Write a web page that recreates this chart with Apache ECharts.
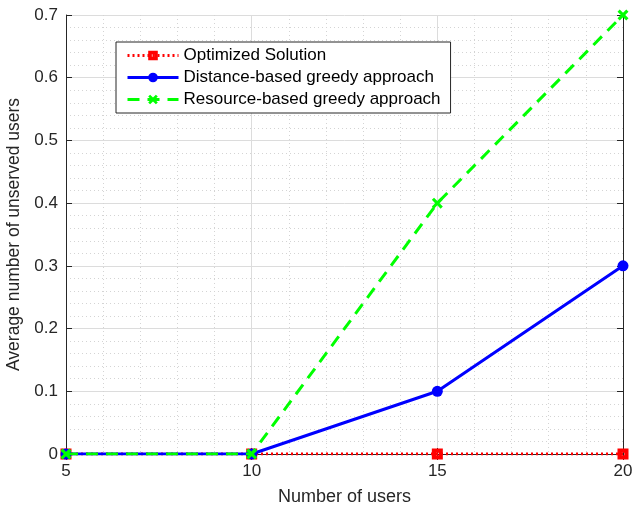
<!DOCTYPE html>
<html>
<head>
<meta charset="utf-8">
<script src="https://cdn.jsdelivr.net/npm/echarts@6/dist/echarts.min.js"></script>
<style>
html,body{margin:0;padding:0;background:#fff;}
#chart{width:634px;height:508px;}
</style>
</head>
<body>
<div id="chart"></div>
<script>
// Number of users on the x axis
const users = [5, 10, 15, 20];
// Average number of unserved users per scheme
const optimized = [0, 0, 0, 0];
const distanceGreedy = [0, 0, 0.1, 0.3];
const resourceGreedy = [0, 0, 0.4, 0.7];
const seriesNames = ['Optimized Solution', 'Distance-based greedy approach', 'Resource-based greedy approach'];

const FONT = '"Liberation Sans", Arial, Helvetica, sans-serif';
const AXIS_COLOR = '#262626';
const crossPath = 'path://M2,0 L5,3 L8,0 L10,2 L7,5 L10,8 L8,10 L5,7 L2,10 L0,8 L3,5 L0,2 Z';
// thick square outline with a small hole in the middle
const squarePath = 'path://M0,0 L10,0 L10,10 L0,10 Z M3.8,3.8 L3.8,6.2 L6.2,6.2 L6.2,3.8 Z';

const pairs = arr => users.map((u, i) => [u, arr[i]]);

const boxAxis = (pos, isX) => ({
  type: 'value',
  position: pos,
  min: isX ? 5 : 0,
  max: isX ? 20 : 0.7,
  interval: isX ? 5 : 0.1,
  axisLine: { show: true, lineStyle: { color: AXIS_COLOR, width: 1 } },
  axisTick: { show: true, inside: true, length: 6, lineStyle: { color: AXIS_COLOR } },
  axisLabel: { show: false },
  splitLine: { show: false }
});

const chart = echarts.init(document.getElementById('chart'), null, { renderer: 'canvas' });
chart.setOption({
  animation: false,
  backgroundColor: '#ffffff',
  grid: { left: 66, right: 11, top: 15, bottom: 54, containLabel: false, outerBoundsMode: 'none' },
  legend: {
    left: 116, top: 42,
    orient: 'vertical',
    backgroundColor: '#ffffff',
    borderColor: AXIS_COLOR,
    borderWidth: 1,
    borderRadius: 0,
    padding: [5, 10, 5, 10],
    itemGap: 5,
    itemWidth: 51,
    itemHeight: 12,
    lineStyle: { width: 3 },
    textStyle: { fontFamily: FONT, fontSize: 17, color: '#000', padding: [0, 0, 0, 0] },
    data: seriesNames
  },
  xAxis: [{
    type: 'value',
    min: 5, max: 20, interval: 5,
    name: 'Number of users',
    nameLocation: 'middle',
    nameGap: 34,
    nameTextStyle: { fontFamily: FONT, fontSize: 18, color: AXIS_COLOR },
    axisLine: { show: true, lineStyle: { color: AXIS_COLOR, width: 1 } },
    axisTick: { show: true, inside: true, length: 6, lineStyle: { color: AXIS_COLOR } },
    axisLabel: { fontFamily: FONT, fontSize: 17, color: AXIS_COLOR, margin: 9 },
    splitLine: { show: true, lineStyle: { color: '#dcdcdc', width: 1 } },
    minorTick: { show: false, splitNumber: 5 },
    minorSplitLine: { show: true, lineStyle: { color: '#d4d4d4', type: [1, 3], width: 1 } }
  }, boxAxis('top', true)],
  yAxis: [{
    type: 'value',
    min: 0, max: 0.7, interval: 0.1,
    name: 'Average number of unserved users',
    nameLocation: 'middle',
    nameGap: 38,
    nameTextStyle: { fontFamily: FONT, fontSize: 17.5, color: AXIS_COLOR },
    axisLine: { show: true, lineStyle: { color: AXIS_COLOR, width: 1 } },
    axisTick: { show: true, inside: true, length: 6, lineStyle: { color: AXIS_COLOR } },
    axisLabel: { fontFamily: FONT, fontSize: 17, color: AXIS_COLOR, margin: 8,
      formatter: v => (Math.round(v * 10) / 10).toString() },
    splitLine: { show: true, lineStyle: { color: '#dcdcdc', width: 1 } },
    minorTick: { show: false, splitNumber: 5 },
    minorSplitLine: { show: true, lineStyle: { color: '#d4d4d4', type: [1, 3], width: 1 } }
  }, boxAxis('right', false)],
  series: [{
    name: seriesNames[0],
    type: 'line',
    data: pairs(optimized),
    symbol: squarePath,
    symbolSize: 11,
    showAllSymbol: true,
    lineStyle: { color: '#ff0000', width: 3, type: [2, 3] },
    itemStyle: { color: '#ff0000' },
    z: 2
  }, {
    name: seriesNames[1],
    type: 'line',
    data: pairs(distanceGreedy),
    symbol: 'circle',
    symbolSize: 11,
    lineStyle: { color: '#0000ff', width: 3, type: 'solid' },
    itemStyle: { color: '#0000ff' },
    z: 3
  }, {
    name: seriesNames[2],
    type: 'line',
    data: pairs(resourceGreedy),
    symbol: crossPath,
    symbolSize: 11,
    lineStyle: { color: '#00ff00', width: 3, type: [12, 8] },
    itemStyle: { color: '#00ff00' },
    z: 4
  }]
});
</script>
</body>
</html>
